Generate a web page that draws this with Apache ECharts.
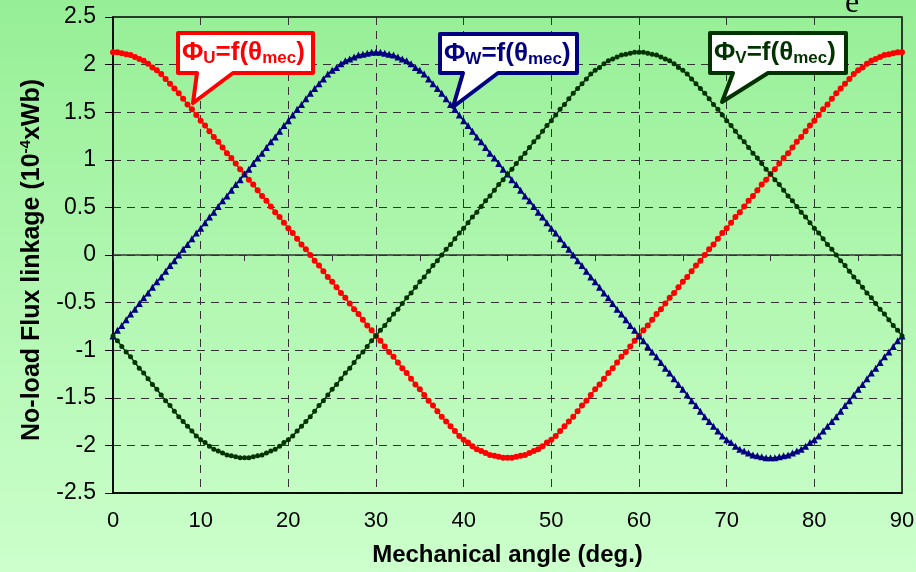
<!DOCTYPE html>
<html>
<head>
<meta charset="utf-8">
<script src="https://cdn.jsdelivr.net/npm/echarts@6/dist/echarts.min.js"></script>
<style>
  html, body { margin: 0; padding: 0; }
  #chart { width: 916px; height: 572px; }
</style>
</head>
<body>
<div id="chart"></div>
<script>
// mechanical angle (deg.), one sample every 0.5 deg
const angles = [
  0, 0.5, 1, 1.5, 2, 2.5, 3, 3.5, 4, 4.5, 5, 5.5, 6, 6.5, 7, 7.5, 8, 8.5, 9, 9.5,
  10, 10.5, 11, 11.5, 12, 12.5, 13, 13.5, 14, 14.5, 15, 15.5, 16, 16.5, 17, 17.5, 18, 18.5, 19, 19.5,
  20, 20.5, 21, 21.5, 22, 22.5, 23, 23.5, 24, 24.5, 25, 25.5, 26, 26.5, 27, 27.5, 28, 28.5, 29, 29.5,
  30, 30.5, 31, 31.5, 32, 32.5, 33, 33.5, 34, 34.5, 35, 35.5, 36, 36.5, 37, 37.5, 38, 38.5, 39, 39.5,
  40, 40.5, 41, 41.5, 42, 42.5, 43, 43.5, 44, 44.5, 45, 45.5, 46, 46.5, 47, 47.5, 48, 48.5, 49, 49.5,
  50, 50.5, 51, 51.5, 52, 52.5, 53, 53.5, 54, 54.5, 55, 55.5, 56, 56.5, 57, 57.5, 58, 58.5, 59, 59.5,
  60, 60.5, 61, 61.5, 62, 62.5, 63, 63.5, 64, 64.5, 65, 65.5, 66, 66.5, 67, 67.5, 68, 68.5, 69, 69.5,
  70, 70.5, 71, 71.5, 72, 72.5, 73, 73.5, 74, 74.5, 75, 75.5, 76, 76.5, 77, 77.5, 78, 78.5, 79, 79.5,
  80, 80.5, 81, 81.5, 82, 82.5, 83, 83.5, 84, 84.5, 85, 85.5, 86, 86.5, 87, 87.5, 88, 88.5, 89, 89.5,
  90
];

// no-load flux linkage (10^-4 Wb)
const phiU = [
  2.13, 2.13, 2.12, 2.11, 2.10, 2.08, 2.06, 2.04, 2.01, 1.97,
  1.94, 1.90, 1.85, 1.80, 1.75, 1.70, 1.64, 1.58, 1.53, 1.47,
  1.41, 1.36, 1.30, 1.24, 1.19, 1.13, 1.07, 1.02, 0.96, 0.90,
  0.85, 0.79, 0.74, 0.68, 0.62, 0.57, 0.51, 0.45, 0.40, 0.34,
  0.28, 0.23, 0.17, 0.11, 0.06, 0, -0.06, -0.11, -0.17, -0.23,
  -0.28, -0.34, -0.40, -0.45, -0.51, -0.57, -0.62, -0.68, -0.74, -0.79,
  -0.85, -0.90, -0.96, -1.02, -1.07, -1.13, -1.19, -1.24, -1.30, -1.36,
  -1.41, -1.47, -1.53, -1.58, -1.64, -1.70, -1.75, -1.80, -1.85, -1.90,
  -1.94, -1.97, -2.01, -2.04, -2.06, -2.08, -2.10, -2.11, -2.12, -2.13,
  -2.13,
  -2.13, -2.12, -2.11, -2.10, -2.08, -2.06, -2.04, -2.01, -1.97, -1.94,
  -1.90, -1.85, -1.80, -1.75, -1.70, -1.64, -1.58, -1.53, -1.47, -1.41,
  -1.36, -1.30, -1.24, -1.19, -1.13, -1.07, -1.02, -0.96, -0.90, -0.85,
  -0.79, -0.74, -0.68, -0.62, -0.57, -0.51, -0.45, -0.40, -0.34, -0.28,
  -0.23, -0.17, -0.11, -0.06, 0, 0.06, 0.11, 0.17, 0.23, 0.28,
  0.34, 0.40, 0.45, 0.51, 0.57, 0.62, 0.68, 0.74, 0.79, 0.85,
  0.90, 0.96, 1.02, 1.07, 1.13, 1.19, 1.24, 1.30, 1.36, 1.41,
  1.47, 1.53, 1.58, 1.64, 1.70, 1.75, 1.80, 1.85, 1.90, 1.94,
  1.97, 2.01, 2.04, 2.06, 2.08, 2.10, 2.11, 2.12, 2.13, 2.13
];

const phiW = [
  -0.85, -0.79, -0.74, -0.68, -0.62, -0.57, -0.51, -0.45, -0.40, -0.34,
  -0.28, -0.23, -0.17, -0.11, -0.06, 0, 0.06, 0.11, 0.17, 0.23,
  0.28, 0.34, 0.40, 0.45, 0.51, 0.57, 0.62, 0.68, 0.74, 0.79,
  0.85, 0.90, 0.96, 1.02, 1.07, 1.13, 1.19, 1.24, 1.30, 1.36,
  1.41, 1.47, 1.53, 1.58, 1.64, 1.70, 1.75, 1.80, 1.85, 1.90,
  1.94, 1.97, 2.01, 2.04, 2.06, 2.08, 2.10, 2.11, 2.12, 2.13,
  2.13,
  2.13, 2.12, 2.11, 2.10, 2.08, 2.06, 2.04, 2.01, 1.97, 1.94,
  1.90, 1.85, 1.80, 1.75, 1.70, 1.64, 1.58, 1.53, 1.47, 1.41,
  1.36, 1.30, 1.24, 1.19, 1.13, 1.07, 1.02, 0.96, 0.90, 0.85,
  0.79, 0.74, 0.68, 0.62, 0.57, 0.51, 0.45, 0.40, 0.34, 0.28,
  0.23, 0.17, 0.11, 0.06, 0, -0.06, -0.11, -0.17, -0.23, -0.28,
  -0.34, -0.40, -0.45, -0.51, -0.57, -0.62, -0.68, -0.74, -0.79, -0.85,
  -0.90, -0.96, -1.02, -1.07, -1.13, -1.19, -1.24, -1.30, -1.36, -1.41,
  -1.47, -1.53, -1.58, -1.64, -1.70, -1.75, -1.80, -1.85, -1.90, -1.94,
  -1.97, -2.01, -2.04, -2.06, -2.08, -2.10, -2.11, -2.12, -2.13, -2.13,
  -2.13, -2.12, -2.11, -2.10, -2.08, -2.06, -2.04, -2.01, -1.97, -1.94,
  -1.90, -1.85, -1.80, -1.75, -1.70, -1.64, -1.58, -1.53, -1.47, -1.41,
  -1.36, -1.30, -1.24, -1.19, -1.13, -1.07, -1.02, -0.96, -0.90, -0.85
];

const phiV = [
  -0.85, -0.90, -0.96, -1.02, -1.07, -1.13, -1.19, -1.24, -1.30, -1.36,
  -1.41, -1.47, -1.53, -1.58, -1.64, -1.70, -1.75, -1.80, -1.85, -1.90,
  -1.94, -1.97, -2.01, -2.04, -2.06, -2.08, -2.10, -2.11, -2.12, -2.13,
  -2.13,
  -2.13, -2.12, -2.11, -2.10, -2.08, -2.06, -2.04, -2.01, -1.97, -1.94,
  -1.90, -1.85, -1.80, -1.75, -1.70, -1.64, -1.58, -1.53, -1.47, -1.41,
  -1.36, -1.30, -1.24, -1.19, -1.13, -1.07, -1.02, -0.96, -0.90, -0.85,
  -0.79, -0.74, -0.68, -0.62, -0.57, -0.51, -0.45, -0.40, -0.34, -0.28,
  -0.23, -0.17, -0.11, -0.06, 0, 0.06, 0.11, 0.17, 0.23, 0.28,
  0.34, 0.40, 0.45, 0.51, 0.57, 0.62, 0.68, 0.74, 0.79, 0.85,
  0.90, 0.96, 1.02, 1.07, 1.13, 1.19, 1.24, 1.30, 1.36, 1.41,
  1.47, 1.53, 1.58, 1.64, 1.70, 1.75, 1.80, 1.85, 1.90, 1.94,
  1.97, 2.01, 2.04, 2.06, 2.08, 2.10, 2.11, 2.12, 2.13, 2.13,
  2.13, 2.12, 2.11, 2.10, 2.08, 2.06, 2.04, 2.01, 1.97, 1.94,
  1.90, 1.85, 1.80, 1.75, 1.70, 1.64, 1.58, 1.53, 1.47, 1.41,
  1.36, 1.30, 1.24, 1.19, 1.13, 1.07, 1.02, 0.96, 0.90, 0.85,
  0.79, 0.74, 0.68, 0.62, 0.57, 0.51, 0.45, 0.40, 0.34, 0.28,
  0.23, 0.17, 0.11, 0.06, 0, -0.06, -0.11, -0.17, -0.23, -0.28,
  -0.34, -0.40, -0.45, -0.51, -0.57, -0.62, -0.68, -0.74, -0.79, -0.85
];

const FONT = 'Liberation Sans, Arial, sans-serif';
const RED = '#ff0000';
const NAVY = '#000080';
const DKGREEN = '#003300';

const pairs = (ys) => angles.map((a, i) => [a, ys[i]]);

// speech-bubble label: polygon + rich text
const callout = (pts, tx, ty, color, sub) => ([
  {
    type: 'polygon',
    z: 100,
    shape: { points: pts },
    style: { fill: '#ffffff', stroke: color, lineWidth: 4, lineJoin: 'round' }
  },
  {
    type: 'text',
    z: 101,
    x: tx,
    y: ty,
    style: {
      text: `{m|Φ}{s|${sub}}{m|=f(θ}{s|mec}{m|)}`,
      verticalAlign: 'middle',
      rich: {
        m: { fill: color, fontSize: 26, fontWeight: 'bold', fontFamily: FONT, lineHeight: 27 },
        s: { fill: color, fontSize: 17, fontWeight: 'bold', fontFamily: FONT, lineHeight: 13, verticalAlign: 'bottom' }
      }
    }
  }
]);

const chart = echarts.init(document.getElementById('chart'));

const option = {
  animation: false,
  backgroundColor: {
    type: 'linear', x: 0, y: 0, x2: 0, y2: 1,
    colorStops: [
      { offset: 0, color: '#96ef96' },
      { offset: 1, color: '#ccffcc' }
    ]
  },
  grid: {
    left: 113, right: 14, top: 17, bottom: 79,
    show: true,
    borderColor: '#000',
    borderWidth: 1.5,
    backgroundColor: 'transparent',
    outerBoundsMode: 'none'
  },
  xAxis: [{
    type: 'value',
    min: 0, max: 90, interval: 10,
    position: 'bottom',
    name: 'Mechanical angle (deg.)',
    nameLocation: 'middle',
    nameGap: 50,
    nameTextStyle: { color: '#000', fontSize: 24, fontWeight: 'bold', fontFamily: FONT },
    axisLine: { onZero: false, lineStyle: { color: '#000', width: 1.5 } },
    axisTick: { show: false },
    axisLabel: { color: '#000', fontSize: 22, fontFamily: FONT, margin: 17 },
    splitLine: { show: true, lineStyle: { color: '#333', width: 1, type: [8, 6] } }
  }, {
    // zero line with 5 deg ticks
    type: 'value',
    min: 0, max: 90, interval: 5,
    position: 'top',
    axisLine: { onZero: true, onZeroAxisIndex: 0, lineStyle: { color: '#333', width: 1.5 } },
    axisTick: { show: true, inside: true, length: 6, lineStyle: { color: '#333', width: 1 } },
    axisLabel: { show: false },
    splitLine: { show: false }
  }],
  yAxis: {
    type: 'value',
    min: -2.5, max: 2.5, interval: 0.5,
    axisLine: { show: true, onZero: false, lineStyle: { color: '#000', width: 1.5 } },
    axisTick: { show: true, length: 8, lineStyle: { color: '#000', width: 1 } },
    axisLabel: { color: '#000', fontSize: 23, fontFamily: FONT, margin: 17 },
    splitLine: { show: true, lineStyle: { color: '#333', width: 1, type: [8, 6] } }
  },
  series: [{
    name: 'PhiU',
    type: 'line',
    data: pairs(phiU),
    symbol: 'circle',
    symbolSize: 6,
    showSymbol: true,
    itemStyle: { color: RED },
    lineStyle: { color: RED, width: 1.5 }
  }, {
    name: 'PhiW',
    type: 'line',
    data: pairs(phiW),
    symbol: 'triangle',
    symbolSize: 7,
    itemStyle: { color: NAVY },
    lineStyle: { color: NAVY, width: 1.5 }
  }, {
    name: 'PhiV',
    type: 'line',
    data: pairs(phiV),
    symbol: 'circle',
    symbolSize: 5,
    itemStyle: { color: DKGREEN },
    lineStyle: { color: DKGREEN, width: 1.5 }
  }],
  graphic: [
    {
      type: 'text',
      x: 32, y: 260,
      rotation: Math.PI / 2,
      style: {
        text: '{b|No-load Flux linkage (10}{p|-4}{b|xWb)}',
        align: 'center',
        verticalAlign: 'middle',
        rich: {
          b: { fill: '#000', fontSize: 25, fontWeight: 'bold', fontFamily: FONT, lineHeight: 28 },
          p: { fill: '#000', fontSize: 15, fontWeight: 'bold', fontFamily: FONT, lineHeight: 14, verticalAlign: 'top' }
        }
      }
    },
    {
      type: 'text',
      x: 845, y: -12,
      style: { text: 'e', fill: '#000', fontSize: 32, fontFamily: 'Liberation Serif, serif' }
    },
    ...callout([[178, 33], [313, 33], [313, 73], [233, 73], [193, 103], [197, 73], [178, 73]], 182, 53, RED, 'U'),
    ...callout([[440, 34], [577, 34], [577, 73], [498, 73], [453, 107], [463, 73], [440, 73]], 444, 54, NAVY, 'W'),
    ...callout([[710, 33], [846, 33], [846, 73], [768, 73], [722, 102], [733, 73], [710, 73]], 714, 53, DKGREEN, 'V')
  ]
};

chart.setOption(option);
</script>
</body>
</html>
